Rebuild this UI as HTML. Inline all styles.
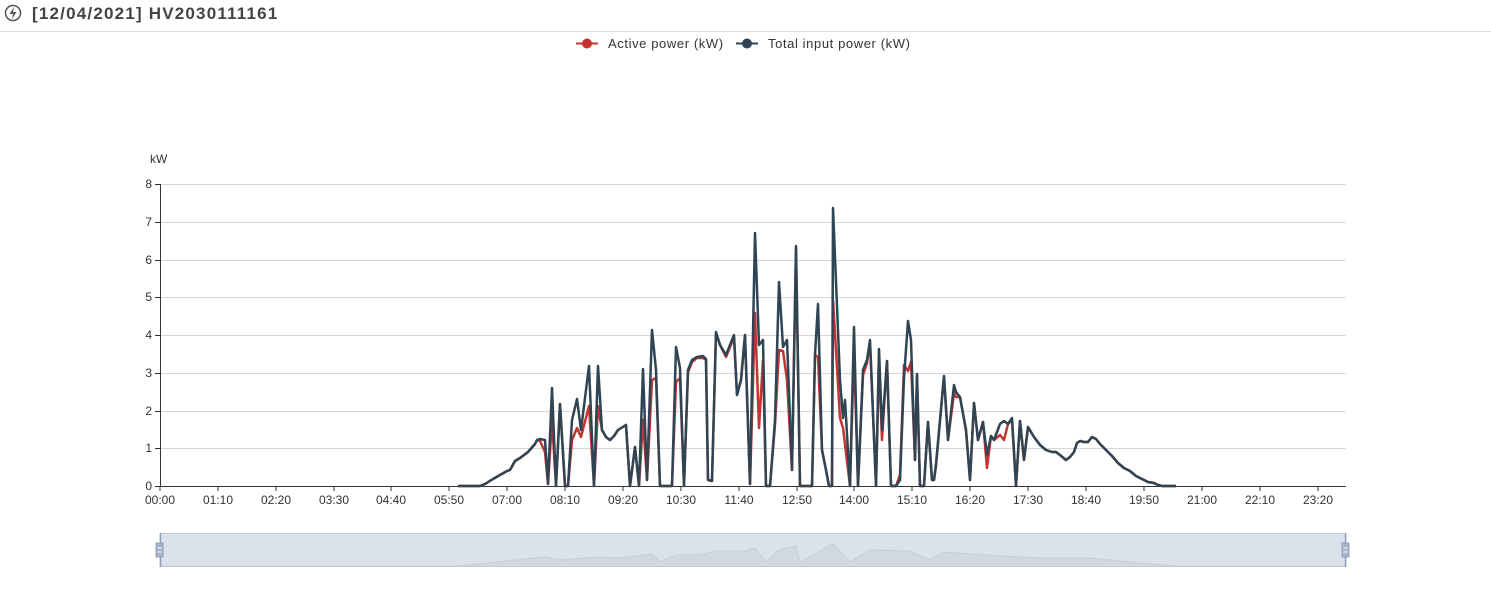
<!DOCTYPE html>
<html><head><meta charset="utf-8"><style>
body{margin:0;background:#fff;width:1491px;height:594px;overflow:hidden;font-family:"Liberation Sans",sans-serif;}
</style></head><body>
<svg width="1491" height="594" xmlns="http://www.w3.org/2000/svg" font-family="Liberation Sans, sans-serif">
<circle cx="13" cy="13" r="7.5" fill="none" stroke="#555" stroke-width="1.5"/>
<path d="M14 7 L9.5 14 L13 14 L12 19 L16.5 12 L13 12 Z" fill="#555"/>
<text x="32" y="19" font-size="17" font-weight="bold" fill="#444" letter-spacing="1.2">[12/04/2021] HV2030111161</text>
<line x1="0" y1="31.5" x2="1491" y2="31.5" stroke="#ddd"/>
<line x1="576" y1="43.5" x2="598" y2="43.5" stroke="#c23531" stroke-width="2"/>
<circle cx="587" cy="43.5" r="5" fill="#c23531"/>
<text x="608" y="48" font-size="13" fill="#333" letter-spacing="0.6">Active power (kW)</text>
<line x1="736" y1="43.5" x2="758" y2="43.5" stroke="#2f4554" stroke-width="2"/>
<circle cx="747" cy="43.5" r="5" fill="#2f4554"/>
<text x="768" y="48" font-size="13" fill="#333" letter-spacing="0.6">Total input power (kW)</text>
<text x="150" y="163" font-size="12" fill="#333">kW</text>
<g stroke="#d6d6d6" stroke-width="1">
<line x1="160" y1="184.5" x2="1346" y2="184.5"/><line x1="160" y1="222.5" x2="1346" y2="222.5"/>
<line x1="160" y1="260.5" x2="1346" y2="260.5"/><line x1="160" y1="297.5" x2="1346" y2="297.5"/>
<line x1="160" y1="335.5" x2="1346" y2="335.5"/><line x1="160" y1="373.5" x2="1346" y2="373.5"/>
<line x1="160" y1="411.5" x2="1346" y2="411.5"/><line x1="160" y1="448.5" x2="1346" y2="448.5"/>
</g>
<g font-size="12" fill="#333" text-anchor="end">
<text x="152" y="188">8</text><text x="152" y="226">7</text><text x="152" y="264">6</text><text x="152" y="301">5</text>
<text x="152" y="339">4</text><text x="152" y="377">3</text><text x="152" y="415">2</text><text x="152" y="452">1</text><text x="152" y="490">0</text>
</g>
<g stroke="#333"><line x1="155" y1="486.5" x2="1346" y2="486.5"/><line x1="160.5" y1="184" x2="160.5" y2="486"/>
<line x1="155" y1="184.5" x2="160" y2="184.5"/><line x1="155" y1="222.5" x2="160" y2="222.5"/><line x1="155" y1="260.5" x2="160" y2="260.5"/><line x1="155" y1="297.5" x2="160" y2="297.5"/><line x1="155" y1="335.5" x2="160" y2="335.5"/><line x1="155" y1="373.5" x2="160" y2="373.5"/><line x1="155" y1="411.5" x2="160" y2="411.5"/><line x1="155" y1="448.5" x2="160" y2="448.5"/>
</g>
<g stroke="#333">
<line x1="160" y1="486" x2="160" y2="491"/><line x1="218" y1="486" x2="218" y2="491"/><line x1="276" y1="486" x2="276" y2="491"/><line x1="334" y1="486" x2="334" y2="491"/><line x1="391" y1="486" x2="391" y2="491"/><line x1="449" y1="486" x2="449" y2="491"/><line x1="507" y1="486" x2="507" y2="491"/><line x1="565" y1="486" x2="565" y2="491"/><line x1="623" y1="486" x2="623" y2="491"/><line x1="681" y1="486" x2="681" y2="491"/><line x1="739" y1="486" x2="739" y2="491"/><line x1="797" y1="486" x2="797" y2="491"/><line x1="854" y1="486" x2="854" y2="491"/><line x1="912" y1="486" x2="912" y2="491"/><line x1="970" y1="486" x2="970" y2="491"/><line x1="1028" y1="486" x2="1028" y2="491"/><line x1="1086" y1="486" x2="1086" y2="491"/><line x1="1144" y1="486" x2="1144" y2="491"/><line x1="1202" y1="486" x2="1202" y2="491"/><line x1="1260" y1="486" x2="1260" y2="491"/><line x1="1318" y1="486" x2="1318" y2="491"/>
</g>
<g font-size="12" fill="#333" text-anchor="middle">
<text x="160" y="504">00:00</text><text x="218" y="504">01:10</text><text x="276" y="504">02:20</text><text x="334" y="504">03:30</text><text x="391" y="504">04:40</text><text x="449" y="504">05:50</text><text x="507" y="504">07:00</text><text x="565" y="504">08:10</text><text x="623" y="504">09:20</text><text x="681" y="504">10:30</text><text x="739" y="504">11:40</text><text x="797" y="504">12:50</text><text x="854" y="504">14:00</text><text x="912" y="504">15:10</text><text x="970" y="504">16:20</text><text x="1028" y="504">17:30</text><text x="1086" y="504">18:40</text><text x="1144" y="504">19:50</text><text x="1202" y="504">21:00</text><text x="1260" y="504">22:10</text><text x="1318" y="504">23:20</text>
</g>
<polyline fill="none" stroke="#c23531" stroke-width="2.5" stroke-linejoin="round" points="458,486 480,486 485,484 493,479 500,475 507,471 510,470 515,461 520,458 528,452 535,444 537,440 540,441 545,452 548,484 552,420 556,486 560,404 565,486 568,486 572,440 577,428 581,437 589,406 594,486 598,406 602,430 606,437 610,440 614,436 618,430 626,425 630,486 635,447 639,486 643,420 647,480 652,380 656,378 660,486 672,486 676,382 680,378 684,486 688,372 692,362 697,358 703,358 706,360 708,480 712,481 716,333 720,345 726,357 734,337 737,395 741,380 745,335 750,484 755,313 759,428 763,360 766,486 770,486 775,425 779,350 783,351 787,380 792,470 796,250 800,486 812,486 815,355 818,357 822,450 826,470 829,486 832,486 833,300 840,418 843,428 850,486 854,350 858,486 863,375 867,363 870,342 876,486 879,360 882,440 887,361 891,486 896,486 900,475 904,365 908,371 911,362 915,460 917,374 920,486 924,486 928,422 932,480 934,480 936,466 944,376 948,440 954,393 956,397 960,397 966,430 970,480 974,403 978,440 983,422 987,468 991,436 994,440 1000,435 1004,440 1008,424 1012,420 1016,486 1020,421 1024,460 1028,427 1034,437 1040,445 1046,450 1052,452 1056,452 1060,455 1066,460 1070,457 1074,452 1077,443 1080,441 1084,442 1088,442 1092,437 1096,439 1100,444 1106,450 1112,456 1118,463 1124,468 1130,471 1136,476 1142,479 1148,482 1154,483 1158,485 1162,486 1176,486"/>
<polyline fill="none" stroke="#2f4554" stroke-width="2.5" stroke-linejoin="round" points="458,486 480,486 485,484 493,479 500,475 507,471 510,470 515,461 520,458 528,452 535,444 537,440 540,439 545,440 548,484 552,388 556,486 560,404 565,486 568,486 572,420 577,399 581,430 589,366 594,486 598,366 602,430 606,437 610,440 614,436 618,430 626,425 630,486 635,447 639,486 643,369 647,480 652,330 656,370 660,486 672,486 676,347 680,368 684,486 688,370 692,360 697,357 703,356 706,359 708,480 712,481 716,332 720,345 726,355 734,335 737,395 741,380 745,335 750,484 755,233 759,345 763,340 766,486 770,486 775,420 779,282 783,347 787,340 792,470 796,246 800,486 812,486 815,355 818,304 822,450 826,470 829,486 832,486 833,208 840,380 843,418 845,400 850,486 854,327 858,486 863,370 867,360 870,340 876,486 879,349 882,430 887,361 891,486 896,486 900,480 904,378 908,321 911,340 915,460 917,374 920,486 924,486 928,422 932,480 934,480 936,464 944,376 948,440 954,385 956,392 960,397 966,430 970,480 974,403 978,440 983,422 987,455 991,436 994,440 1000,424 1004,421 1008,424 1012,418 1016,486 1020,421 1024,460 1028,427 1034,437 1040,445 1046,450 1052,452 1056,452 1060,455 1066,460 1070,457 1074,452 1077,443 1080,441 1084,442 1088,442 1092,437 1096,439 1100,444 1106,450 1112,456 1118,463 1124,468 1130,471 1136,476 1142,479 1148,482 1154,483 1158,485 1162,486 1176,486"/>
<rect x="160" y="533.5" width="1186" height="33" fill="#dce2ec" stroke="#c2cbdc"/>
<polyline fill="#d2d8e2" stroke="#c6cdd9" stroke-width="1" points="160,566 458,566 545,557 560,560 600,557 620,558 652,554 660,562 676,555 700,555 716,551 745,551 755,548 766,562 779,550 796,546 800,562 818,552 833,544 850,562 870,550 910,551 930,560 944,552 1000,556 1040,558 1090,558 1130,562 1176,566 1346,566"/>
<line x1="160.5" y1="533" x2="160.5" y2="567" stroke="#8fa0bd" stroke-width="1.5"/>
<line x1="1345.5" y1="533" x2="1345.5" y2="567" stroke="#8fa0bd" stroke-width="1.5"/>
<rect x="156" y="543" width="7" height="14" fill="#a7b3c8" stroke="#8fa0bd"/>
<rect x="1342" y="543" width="7" height="14" fill="#a7b3c8" stroke="#8fa0bd"/>
<line x1="157.5" y1="548" x2="161.5" y2="548" stroke="#fff"/><line x1="157.5" y1="552" x2="161.5" y2="552" stroke="#fff"/>
<line x1="1343.5" y1="548" x2="1347.5" y2="548" stroke="#fff"/><line x1="1343.5" y1="552" x2="1347.5" y2="552" stroke="#fff"/>
</svg>
</body></html>
